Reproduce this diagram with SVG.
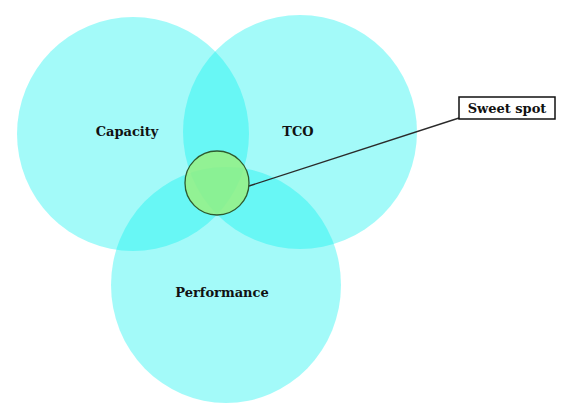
<svg xmlns="http://www.w3.org/2000/svg" width="570" height="417" viewBox="0 0 570 417">
<style>
.set{fill:#00f0ee;fill-opacity:0.36;stroke:none}
.lbl{font-family:"DejaVu Serif","Liberation Serif",serif;font-weight:bold;font-size:13px;fill:#111;text-anchor:middle}
.conn{stroke:#2a2a2a;stroke-width:1.4;fill:none}
</style>
<rect width="570" height="417" fill="#ffffff"/>
<g id="capacity">
<ellipse class="set" cx="133" cy="134" rx="116" ry="117"/>
<text class="lbl" x="127" y="136">Capacity</text>
</g>
<g id="tco">
<ellipse class="set" cx="300" cy="132" rx="117" ry="117"/>
<text class="lbl" x="298" y="136">TCO</text>
</g>
<g id="performance">
<ellipse class="set" cx="226" cy="285" rx="115" ry="118"/>
<text class="lbl" x="222" y="297">Performance</text>
</g>
<g id="connectors">
<line class="conn" x1="249" y1="186" x2="459" y2="118"/>
</g>
<g id="sweet-spot">
<circle cx="217" cy="183" r="32" fill="#9cf07c" fill-opacity="0.8" stroke="#2e5a2e" stroke-width="1.3"/>
</g>
<g id="sweet-spot-label">
<rect x="459" y="97" width="96" height="22" fill="#ffffff" stroke="#111" stroke-width="1.5"/>
<text class="lbl" x="507" y="113">Sweet spot</text>
</g>
</svg>
